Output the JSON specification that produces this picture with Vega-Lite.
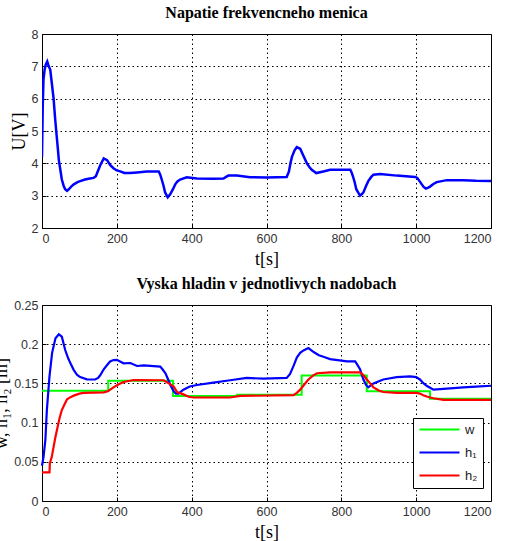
{
  "$schema": "https://vega.github.io/schema/vega-lite/v6.json",
  "background": "white",
  "padding": {"left": -8, "top": 4, "right": 5, "bottom": 5},
  "spacing": 6,
  "resolve": {"legend": {"color": "independent"}},
  "datasets": {
    "u": [
      {"t":0,"v":4.2},{"t":2,"v":5.8},{"t":4,"v":6.6},{"t":7,"v":6.9},{"t":10,"v":7.05},{"t":14,"v":7.15},{"t":18,"v":7.0},{"t":22,"v":6.9},{"t":26,"v":6.5},{"t":31,"v":6.0},{"t":35,"v":5.4},{"t":38,"v":5.0},{"t":42,"v":4.5},{"t":45,"v":4.1},{"t":49,"v":3.8},{"t":53,"v":3.5},{"t":58,"v":3.3},{"t":62,"v":3.2},{"t":67,"v":3.15},{"t":72,"v":3.2},{"t":78,"v":3.28},{"t":85,"v":3.35},{"t":95,"v":3.42},{"t":102,"v":3.45},{"t":115,"v":3.5},{"t":128,"v":3.53},{"t":138,"v":3.55},{"t":144,"v":3.6},{"t":150,"v":3.78},{"t":156,"v":3.95},{"t":165,"v":4.15},{"t":174,"v":4.1},{"t":182,"v":3.95},{"t":191,"v":3.85},{"t":200,"v":3.78},{"t":209,"v":3.75},{"t":220,"v":3.7},{"t":235,"v":3.7},{"t":254,"v":3.72},{"t":280,"v":3.75},{"t":312,"v":3.75},{"t":316,"v":3.65},{"t":320,"v":3.5},{"t":325,"v":3.3},{"t":329,"v":3.1},{"t":336,"v":2.95},{"t":343,"v":3.05},{"t":350,"v":3.2},{"t":356,"v":3.35},{"t":362,"v":3.44},{"t":369,"v":3.5},{"t":387,"v":3.57},{"t":414,"v":3.53},{"t":458,"v":3.52},{"t":485,"v":3.53},{"t":492,"v":3.58},{"t":498,"v":3.62},{"t":521,"v":3.62},{"t":556,"v":3.57},{"t":601,"v":3.56},{"t":654,"v":3.58},{"t":660,"v":3.75},{"t":664,"v":4.0},{"t":668,"v":4.2},{"t":675,"v":4.4},{"t":681,"v":4.5},{"t":690,"v":4.45},{"t":698,"v":4.25},{"t":708,"v":4.0},{"t":715,"v":3.88},{"t":721,"v":3.8},{"t":733,"v":3.7},{"t":752,"v":3.75},{"t":770,"v":3.8},{"t":824,"v":3.8},{"t":828,"v":3.7},{"t":831,"v":3.6},{"t":836,"v":3.4},{"t":840,"v":3.2},{"t":846,"v":3.08},{"t":850,"v":3.0},{"t":855,"v":3.05},{"t":859,"v":3.1},{"t":866,"v":3.3},{"t":872,"v":3.45},{"t":880,"v":3.58},{"t":886,"v":3.65},{"t":904,"v":3.67},{"t":948,"v":3.62},{"t":997,"v":3.58},{"t":1003,"v":3.55},{"t":1009,"v":3.45},{"t":1015,"v":3.35},{"t":1020,"v":3.27},{"t":1026,"v":3.22},{"t":1031,"v":3.24},{"t":1037,"v":3.28},{"t":1046,"v":3.36},{"t":1055,"v":3.42},{"t":1082,"v":3.48},{"t":1126,"v":3.48},{"t":1160,"v":3.46},{"t":1200,"v":3.45}
    ],
    "h": [
      {"s":"w","t":0,"v":0.1407},{"s":"w","t":177,"v":0.1535},{"s":"w","t":350,"v":0.134},{"s":"w","t":521,"v":0.1355},{"s":"w","t":694,"v":0.16},{"s":"w","t":868,"v":0.14},{"s":"w","t":1037,"v":0.1305},{"s":"w","t":1200,"v":0.1305},
      {"s":"h₁","t":0,"v":0.045},{"s":"h₁","t":4,"v":0.056},{"s":"h₁","t":9,"v":0.078},{"s":"h₁","t":13,"v":0.116},{"s":"h₁","t":20,"v":0.159},{"s":"h₁","t":27,"v":0.189},{"s":"h₁","t":36,"v":0.2075},{"s":"h₁","t":45,"v":0.2126},{"s":"h₁","t":53,"v":0.2096},{"s":"h₁","t":62,"v":0.1926},{"s":"h₁","t":70,"v":0.182},{"s":"h₁","t":76,"v":0.1756},{"s":"h₁","t":85,"v":0.167},{"s":"h₁","t":94,"v":0.1607},{"s":"h₁","t":102,"v":0.158},{"s":"h₁","t":120,"v":0.1552},{"s":"h₁","t":142,"v":0.155},{"s":"h₁","t":150,"v":0.157},{"s":"h₁","t":156,"v":0.1607},{"s":"h₁","t":165,"v":0.168},{"s":"h₁","t":174,"v":0.1735},{"s":"h₁","t":182,"v":0.178},{"s":"h₁","t":191,"v":0.1798},{"s":"h₁","t":200,"v":0.18},{"s":"h₁","t":218,"v":0.1756},{"s":"h₁","t":236,"v":0.176},{"s":"h₁","t":254,"v":0.1722},{"s":"h₁","t":272,"v":0.173},{"s":"h₁","t":316,"v":0.1714},{"s":"h₁","t":322,"v":0.168},{"s":"h₁","t":330,"v":0.163},{"s":"h₁","t":338,"v":0.154},{"s":"h₁","t":343,"v":0.148},{"s":"h₁","t":352,"v":0.14},{"s":"h₁","t":358,"v":0.137},{"s":"h₁","t":365,"v":0.137},{"s":"h₁","t":378,"v":0.142},{"s":"h₁","t":395,"v":0.146},{"s":"h₁","t":414,"v":0.148},{"s":"h₁","t":458,"v":0.151},{"s":"h₁","t":503,"v":0.154},{"s":"h₁","t":547,"v":0.157},{"s":"h₁","t":592,"v":0.156},{"s":"h₁","t":654,"v":0.157},{"s":"h₁","t":663,"v":0.162},{"s":"h₁","t":672,"v":0.172},{"s":"h₁","t":681,"v":0.183},{"s":"h₁","t":690,"v":0.189},{"s":"h₁","t":699,"v":0.192},{"s":"h₁","t":712,"v":0.195},{"s":"h₁","t":726,"v":0.19},{"s":"h₁","t":740,"v":0.186},{"s":"h₁","t":752,"v":0.184},{"s":"h₁","t":770,"v":0.181},{"s":"h₁","t":815,"v":0.178},{"s":"h₁","t":837,"v":0.178},{"s":"h₁","t":845,"v":0.172},{"s":"h₁","t":850,"v":0.168},{"s":"h₁","t":859,"v":0.155},{"s":"h₁","t":866,"v":0.148},{"s":"h₁","t":872,"v":0.145},{"s":"h₁","t":886,"v":0.15},{"s":"h₁","t":912,"v":0.155},{"s":"h₁","t":948,"v":0.158},{"s":"h₁","t":984,"v":0.159},{"s":"h₁","t":1000,"v":0.158},{"s":"h₁","t":1010,"v":0.155},{"s":"h₁","t":1020,"v":0.15},{"s":"h₁","t":1028,"v":0.147},{"s":"h₁","t":1046,"v":0.142},{"s":"h₁","t":1073,"v":0.143},{"s":"h₁","t":1126,"v":0.145},{"s":"h₁","t":1160,"v":0.146},{"s":"h₁","t":1200,"v":0.147},
      {"s":"h₂","t":0,"v":0.0366},{"s":"h₂","t":20,"v":0.0366},{"s":"h₂","t":21,"v":0.048},{"s":"h₂","t":26,"v":0.056},{"s":"h₂","t":31,"v":0.069},{"s":"h₂","t":36,"v":0.082},{"s":"h₂","t":42,"v":0.095},{"s":"h₂","t":47,"v":0.106},{"s":"h₂","t":53,"v":0.116},{"s":"h₂","t":60,"v":0.123},{"s":"h₂","t":67,"v":0.1297},{"s":"h₂","t":76,"v":0.1325},{"s":"h₂","t":85,"v":0.1344},{"s":"h₂","t":100,"v":0.137},{"s":"h₂","t":111,"v":0.138},{"s":"h₂","t":165,"v":0.1386},{"s":"h₂","t":176,"v":0.14},{"s":"h₂","t":191,"v":0.145},{"s":"h₂","t":205,"v":0.149},{"s":"h₂","t":218,"v":0.1518},{"s":"h₂","t":245,"v":0.1543},{"s":"h₂","t":325,"v":0.154},{"s":"h₂","t":332,"v":0.152},{"s":"h₂","t":339,"v":0.15},{"s":"h₂","t":352,"v":0.146},{"s":"h₂","t":361,"v":0.139},{"s":"h₂","t":378,"v":0.136},{"s":"h₂","t":392,"v":0.133},{"s":"h₂","t":405,"v":0.132},{"s":"h₂","t":503,"v":0.132},{"s":"h₂","t":530,"v":0.134},{"s":"h₂","t":672,"v":0.135},{"s":"h₂","t":681,"v":0.138},{"s":"h₂","t":690,"v":0.142},{"s":"h₂","t":700,"v":0.148},{"s":"h₂","t":712,"v":0.155},{"s":"h₂","t":724,"v":0.16},{"s":"h₂","t":735,"v":0.163},{"s":"h₂","t":770,"v":0.164},{"s":"h₂","t":850,"v":0.164},{"s":"h₂","t":860,"v":0.16},{"s":"h₂","t":868,"v":0.155},{"s":"h₂","t":877,"v":0.15},{"s":"h₂","t":886,"v":0.145},{"s":"h₂","t":900,"v":0.141},{"s":"h₂","t":912,"v":0.139},{"s":"h₂","t":948,"v":0.138},{"s":"h₂","t":1001,"v":0.138},{"s":"h₂","t":1010,"v":0.137},{"s":"h₂","t":1019,"v":0.135},{"s":"h₂","t":1030,"v":0.133},{"s":"h₂","t":1046,"v":0.131},{"s":"h₂","t":1073,"v":0.129},{"s":"h₂","t":1200,"v":0.129}
    ]
  },
  "vconcat": [
    {
      "width": 449,
      "height": 194,
      "title": "Napatie frekvencneho menica",
      "data": {"name": "u"},
      "mark": {"type": "line", "color": "#0000ff", "strokeWidth": 2.5, "clip": true},
      "encoding": {
        "x": {"field": "t", "type": "quantitative", "title": "t[s]", "scale": {"domain": [0, 1200], "nice": false}, "axis": {"values": [0,200,400,600,800,1000,1200], "format": "d", "titlePadding": 6}},
        "y": {"field": "v", "type": "quantitative", "title": "U[V]", "scale": {"domain": [2, 8], "nice": false, "zero": false}, "axis": {"values": [2,3,4,5,6,7,8]}}
      }
    },
    {
      "width": 449,
      "height": 196,
      "title": "Vyska hladin v jednotlivych nadobach",
      "data": {"name": "h"},
      "encoding": {
        "x": {"field": "t", "type": "quantitative", "title": "t[s]", "scale": {"domain": [0, 1200], "nice": false}, "axis": {"values": [0,200,400,600,800,1000,1200], "format": "d", "titlePadding": 6}},
        "y": {"field": "v", "type": "quantitative", "title": "w, h₁, h₂ [m]", "scale": {"domain": [0, 0.25], "nice": false}, "axis": {"values": [0,0.05,0.1,0.15,0.2,0.25], "format": ".2~f"}},
        "color": {
          "field": "s", "type": "nominal",
          "scale": {"domain": ["w", "h₁", "h₂"], "range": ["#00ff00", "#0000ff", "#ff0000"]},
          "legend": {
            "title": null, "orient": "none", "legendX": 371, "legendY": 113,
            "strokeColor": "black", "fillColor": "white", "padding": 5,
            "symbolType": "M-1,0L7,0", "symbolSize": 100, "symbolStrokeWidth": 2,
            "labelOffset": 34, "labelFont": "Liberation Sans", "labelFontSize": 13, "labelColor": "#222",
            "rowPadding": 9
          }
        }
      },
      "layer": [
        {"transform": [{"filter": "datum.s === 'w'"}], "mark": {"type": "line", "interpolate": "step-after", "strokeWidth": 2}},
        {"transform": [{"filter": "datum.s !== 'w'"}], "mark": {"type": "line", "strokeWidth": 2.2}}
      ]
    }
  ],
  "config": {
    "view": {"stroke": "black", "strokeWidth": 1},
    "title": {"font": "Liberation Serif", "fontSize": 16, "fontWeight": "bold", "color": "black", "offset": 7},
    "axis": {
      "domain": false,
      "grid": true, "gridColor": "black", "gridDash": [1.5, 3], "gridOpacity": 1, "gridWidth": 1,
      "ticks": true, "tickSize": -4, "tickColor": "black",
      "labelFont": "Liberation Sans", "labelFontSize": 12.5, "labelColor": "#333", "labelPadding": 8,
      "titleFont": "Liberation Serif", "titleFontSize": 18, "titleFontWeight": "normal", "titleColor": "black", "titlePadding": 3
    }
  }
}
